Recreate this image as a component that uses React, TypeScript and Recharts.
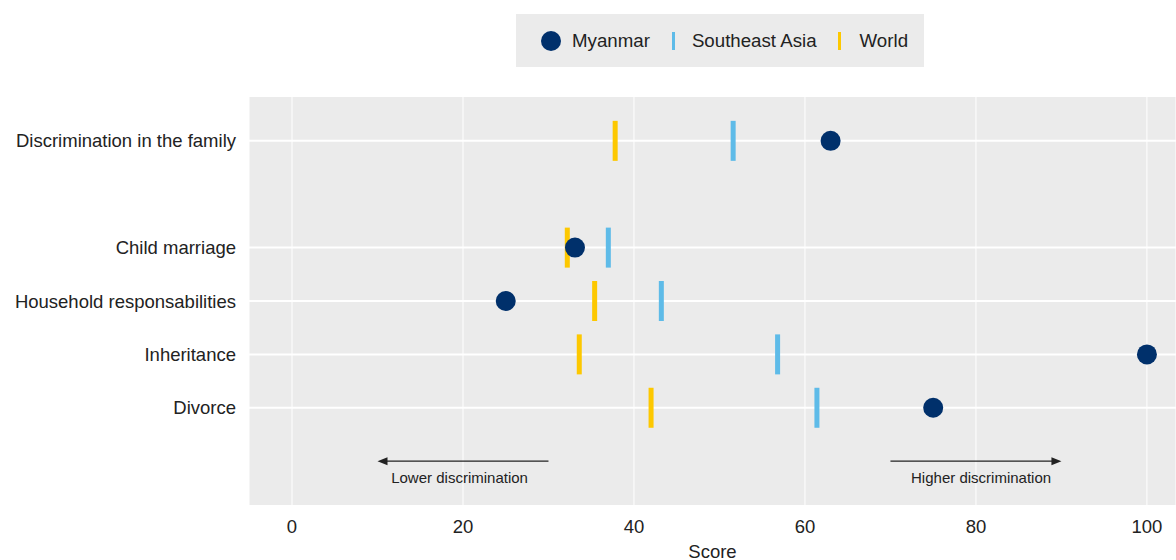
import { ScatterChart, Scatter, XAxis, YAxis, CartesianGrid, ReferenceLine } from "recharts";

const categories = [
  "Discrimination in the family",
  "Child marriage",
  "Household responsabilities",
  "Inheritance",
  "Divorce",
];
// row slots from the bottom; slot 5 is the gap under the headline row, slot 0 holds the arrows
const rowSlots = [6, 4, 3, 2, 1];
const myanmar = [63.0, 33.1, 25.0, 100, 75.0];
const southeastAsia = [51.6, 37.0, 43.2, 56.8, 61.4];
const world = [37.8, 32.2, 35.4, 33.6, 42.0];
const xTicks = [0, 20, 40, 60, 80, 100];

const arrowLabels = ["Lower discrimination", "Higher discrimination"];
const arrowFrom = [30, 70];
const arrowTo = [10, 90];
const arrowTextAt = [19.6, 80.6];

const NAVY = "#00306b";
const SKY = "#5ebbe8";
const GOLD = "#fdc800";
const FONT = "'Liberation Sans', Arial, sans-serif";

const toRows = (vals: number[]) => vals.map((v, i) => ({ x: v, y: rowSlots[i] }));
const rowLabel = (v: number) => {
  const i = rowSlots.indexOf(v);
  return i >= 0 ? categories[i] : "";
};

const Dot = ({ cx, cy }: any) => <circle cx={cx} cy={cy} r={10} fill={NAVY} />;
const Bar = (color: string) => ({ cx, cy }: any) => (
  <rect x={cx - 2.5} y={cy - 20} width={5} height={40} fill={color} />
);

const Head = ({ cx, cy, payload }: any) => {
  const d = payload.dir;
  return (
    <polygon
      points={`${cx},${cy} ${cx - d * 10},${cy - 4} ${cx - d * 10},${cy + 4}`}
      fill="#222"
    />
  );
};
const Note = ({ cx, cy, payload }: any) => (
  <text x={cx} y={cy + 22} textAnchor="middle" fontSize={15} fill="#222" fontFamily={FONT}>
    {payload.label}
  </text>
);

function LegendBox() {
  const item = { display: "flex", alignItems: "center" } as const;
  return (
    <div
      style={{
        position: "absolute",
        left: 516,
        top: 14,
        width: 408,
        height: 53,
        background: "#ebebeb",
        display: "flex",
        alignItems: "center",
        fontFamily: FONT,
        fontSize: 18.7,
        color: "#222",
        boxSizing: "border-box",
        paddingLeft: 25,
      }}
    >
      <div style={item}>
        <span style={{ width: 20, height: 20, borderRadius: 10, background: NAVY, display: "inline-block" }} />
        <span style={{ marginLeft: 11 }}>Myanmar</span>
      </div>
      <div style={{ ...item, marginLeft: 22 }}>
        <span style={{ width: 3, height: 18, background: SKY, display: "inline-block" }} />
        <span style={{ marginLeft: 17 }}>Southeast Asia</span>
      </div>
      <div style={{ ...item, marginLeft: 21 }}>
        <span style={{ width: 3, height: 18, background: GOLD, display: "inline-block" }} />
        <span style={{ marginLeft: 19 }}>World</span>
      </div>
    </div>
  );
}

export default function App() {
  const heads = arrowTo.map((t, i) => ({ x: t, y: 0, dir: Math.sign(t - arrowFrom[i]) }));
  const notes = arrowTextAt.map((t, i) => ({ x: t, y: 0, label: arrowLabels[i] }));

  return (
    <div style={{ position: "absolute", left: 0, top: 0, width: 1176, height: 560, background: "#fff" }}>
      <ScatterChart
        width={1176}
        height={560}
        margin={{ top: 96, right: 0, bottom: 0, left: 0 }}
        style={{ fontFamily: FONT }}
      >
        <CartesianGrid fill="#ebebeb" stroke="#fff" strokeWidth={2} vertical={false} />
        <CartesianGrid stroke="#fff" strokeWidth={1} horizontal={false} />
        <XAxis
          type="number"
          dataKey="x"
          domain={[-5.03, 103.4]}
          ticks={xTicks}
          allowDataOverflow
          tickLine={false}
          axisLine={false}
          tickMargin={8}
          height={54}
          tick={{ fontSize: 18.5, fill: "#222" }}
          label={{ value: "Score", position: "insideBottom", offset: 2, fontSize: 18.5, fill: "#222" }}
        />
        <YAxis
          type="number"
          dataKey="y"
          domain={[-0.84, 6.84]}
          ticks={rowSlots}
          allowDataOverflow
          tickFormatter={rowLabel}
          tickLine={false}
          axisLine={false}
          tickMargin={7}
          width={249}
          tick={{ fontSize: 18.5, fill: "#222" }}
        />
        {arrowFrom.map((f, i) => (
          <ReferenceLine
            key={i}
            segment={[
              { x: f, y: 0 },
              { x: arrowTo[i] - Math.sign(arrowTo[i] - f) * 0.8, y: 0 },
            ]}
            stroke="#222"
            strokeWidth={1.3}
          />
        ))}
        <Scatter data={heads} shape={Head} isAnimationActive={false} />
        <Scatter data={notes} shape={Note} isAnimationActive={false} />
        <Scatter name="World" data={toRows(world)} shape={Bar(GOLD)} isAnimationActive={false} />
        <Scatter name="Southeast Asia" data={toRows(southeastAsia)} shape={Bar(SKY)} isAnimationActive={false} />
        <Scatter name="Myanmar" data={toRows(myanmar)} shape={Dot} isAnimationActive={false} />
      </ScatterChart>
      <LegendBox />
    </div>
  );
}
